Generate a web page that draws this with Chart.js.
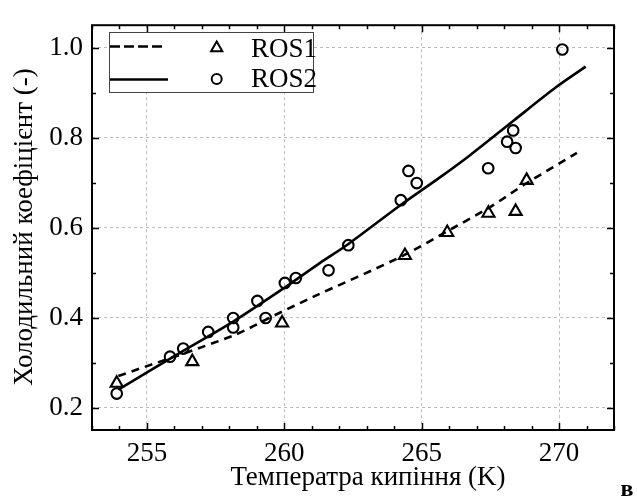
<!DOCTYPE html>
<html>
<head>
<meta charset="utf-8">
<script src="https://cdn.jsdelivr.net/npm/chart.js@4/dist/chart.umd.min.js"></script>
<style>
  html, body { margin: 0; padding: 0; background: #fff; }
  #wrap { width: 637px; height: 497px; }
</style>
</head>
<body>
<div id="wrap"><canvas id="chart" width="637" height="497"></canvas></div>
<script>
// ROS1 - triangles, ROS2 - circles
const ros1X = [253.9, 256.65, 259.92, 264.39, 265.93, 267.43, 268.42, 268.82];
const ros1Y = [0.254, 0.302, 0.388, 0.538, 0.589, 0.632, 0.636, 0.705];

const ros2X = [253.9, 255.84, 256.32, 257.23, 258.14, 258.14, 259.02, 259.32, 260.02, 260.42,
               261.61, 262.33, 264.24, 264.52, 264.82, 267.42, 268.11, 268.33, 268.42, 270.12];
const ros2Y = [0.231, 0.313, 0.331, 0.368, 0.399, 0.378, 0.437, 0.399, 0.477, 0.488,
               0.505, 0.561, 0.661, 0.726, 0.699, 0.732, 0.791, 0.816, 0.777, 0.996];

// fitted curves
const fit1X = [253.96, 258.14, 259.61, 261.05, 264.2, 266.26, 267.47, 268.8, 270.65];
const fit1Y = [0.270, 0.360, 0.404, 0.446, 0.534, 0.603, 0.645, 0.698, 0.766];

const fit2X = [253.96, 256.32, 258.14, 260.0, 261.29, 262.32, 264.21, 265.65, 266.76, 268.33, 269.91, 270.97];
const fit2Y = [0.240, 0.326, 0.391, 0.466, 0.521, 0.563, 0.649, 0.711, 0.761, 0.837, 0.913, 0.958];

const xTitle = 'Температра кипіння (K)';
const yTitle = 'Холодильний коефіцієнт (-)';
const seriesNames = ['ROS1', 'ROS2'];

const serif = "'Liberation Serif', 'Times New Roman', serif";

function pts(xs, ys) {
  return xs.map((x, i) => ({ x: x, y: ys[i] }));
}

// frame, inward ticks, legend, titles
const decor = {
  id: 'decor',
  afterDraw(chart) {
    const ctx = chart.ctx;
    const a = chart.chartArea;
    const xs = chart.scales.x, ys = chart.scales.y;
    ctx.save();
    ctx.strokeStyle = '#000';
    ctx.lineWidth = 1.5;
    for (let v = 253; v <= 272; v++) {
      const px = Math.round(xs.getPixelForValue(v)) + 0.5;
      const len = v % 5 === 0 ? 7 : 4;
      ctx.beginPath();
      ctx.moveTo(px, a.bottom); ctx.lineTo(px, a.bottom - len);
      ctx.moveTo(px, a.top); ctx.lineTo(px, a.top + len);
      ctx.stroke();
    }
    for (let k = 2; k <= 10; k++) {
      const py = Math.round(ys.getPixelForValue(k / 10)) + 0.5;
      const len = k % 2 === 0 ? 7 : 4;
      ctx.beginPath();
      ctx.moveTo(a.left, py); ctx.lineTo(a.left + len, py);
      ctx.moveTo(a.right, py); ctx.lineTo(a.right - len, py);
      ctx.stroke();
    }
    ctx.lineWidth = 2;
    ctx.strokeRect(a.left, a.top, a.right - a.left, a.bottom - a.top);

    // legend
    ctx.fillStyle = '#fff';
    ctx.fillRect(109.5, 32.5, 204, 60);
    ctx.lineWidth = 1;
    ctx.strokeStyle = '#444';
    ctx.strokeRect(109.5, 32.5, 204, 60);
    ctx.strokeStyle = '#000';
    ctx.lineWidth = 2.5;
    ctx.setLineDash([10, 4]);
    ctx.beginPath(); ctx.moveTo(110, 46.5); ctx.lineTo(163, 46.5); ctx.stroke();
    ctx.setLineDash([]);
    ctx.beginPath(); ctx.moveTo(110, 79.5); ctx.lineTo(168, 79.5); ctx.stroke();
    ctx.lineWidth = 2;
    Chart.helpers.drawPoint(ctx, { pointStyle: 'triangle', radius: 6.5, rotation: 0, borderWidth: 2 }, 216.7, 48);
    Chart.helpers.drawPoint(ctx, { pointStyle: 'circle', radius: 5, rotation: 0, borderWidth: 2 }, 216.7, 79);
    ctx.fillStyle = '#000';
    ctx.font = '27px ' + serif;
    ctx.textAlign = 'left';
    ctx.textBaseline = 'alphabetic';
    ctx.fillText(seriesNames[0], 251, 57.3);
    ctx.fillText(seriesNames[1], 251, 87.3);

    // axis titles
    ctx.textAlign = 'center';
    ctx.fillText(xTitle, 368, 485);
    ctx.save();
    ctx.translate(32, 227);
    ctx.rotate(-Math.PI / 2);
    ctx.fillText(yTitle, 0, 0);
    ctx.restore();

    ctx.font = 'bold 24px ' + serif;
    ctx.fillText('в', 627, 496);
    ctx.restore();
  }
};

new Chart(document.getElementById('chart'), {
  type: 'scatter',
  data: {
    datasets: [
      {
        label: seriesNames[0],
        data: pts(ros1X, ros1Y),
        pointStyle: 'triangle',
        pointRadius: 7,
        borderWidth: 2.1,
        borderColor: '#000',
        backgroundColor: 'rgba(0,0,0,0)'
      },
      {
        label: seriesNames[1],
        data: pts(ros2X, ros2Y),
        pointStyle: 'circle',
        pointRadius: 5.3,
        borderWidth: 2.1,
        borderColor: '#000',
        backgroundColor: 'rgba(0,0,0,0)'
      },
      {
        label: 'fit ROS1',
        data: pts(fit1X, fit1Y),
        showLine: true,
        pointRadius: 0,
        borderColor: '#000',
        borderWidth: 2.6,
        borderDash: [8, 6],
        tension: 0.3
      },
      {
        label: 'fit ROS2',
        data: pts(fit2X, fit2Y),
        showLine: true,
        pointRadius: 0,
        borderColor: '#000',
        borderWidth: 2.6,
        tension: 0.3
      }
    ]
  },
  options: {
    responsive: false,
    animation: false,
    layout: { padding: { top: 14, right: 23, left: 0, bottom: 0 } },
    plugins: { legend: { display: false }, tooltip: { enabled: false } },
    scales: {
      x: {
        type: 'linear',
        min: 253,
        max: 272,
        afterFit(scale) { scale.height = 67; },
        ticks: {
          stepSize: 5,
          includeBounds: false,
          padding: 8,
          color: '#000',
          font: { family: serif, size: 27 },
          maxRotation: 0
        },
        grid: { color: '#bbbbbb', lineWidth: 1, drawTicks: false },
        border: { display: false, dash: [3, 3] }
      },
      y: {
        type: 'linear',
        min: 0.15,
        max: 1.05,
        afterFit(scale) { scale.width = 92; },
        ticks: {
          stepSize: 0.2,
          includeBounds: false,
          padding: 9,
          color: '#000',
          font: { family: serif, size: 27 },
          callback: v => v.toFixed(1)
        },
        grid: { color: '#bbbbbb', lineWidth: 1, drawTicks: false },
        border: { display: false, dash: [3, 3] }
      }
    }
  },
  plugins: [decor]
});
</script>
</body>
</html>
